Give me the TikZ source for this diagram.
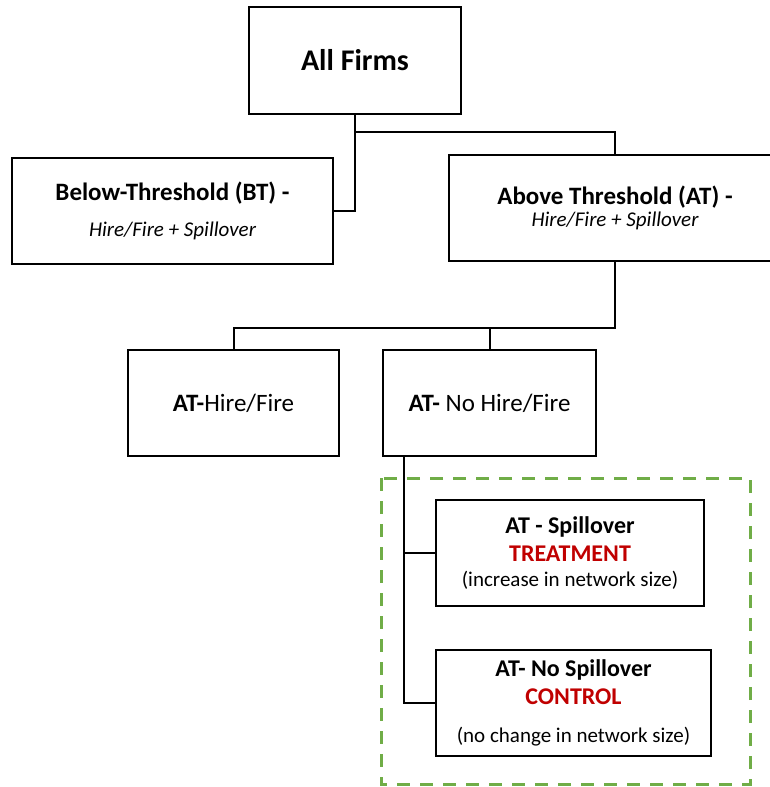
\documentclass[tikz,border=0pt]{standalone}
\usepackage{fontspec}
\setmainfont{Carlito}
\usepackage{tikz}
\definecolor{groupred}{RGB}{192,0,0}
\definecolor{groupgreen}{RGB}{112,173,71}
\lineskiplimit=-30pt

\begin{document}
\begin{tikzpicture}[x=1pt, y=-1pt,
	box/.style={draw, line width=2pt, minimum height=106pt, inner sep=0pt, align=center,
		font=\fontsize{25}{30}\selectfont},
	link/.style={line width=2pt}]
	\useasboundingbox (0,0) rectangle (769,787);
	% top level
	\node[box, minimum width=212pt, minimum height=107pt] (all) at (355,60.5) {\fontsize{30}{34}\selectfont\bfseries All Firms};
	\node[box, minimum width=321pt] (bt) at (172.5,211) {\bfseries Below-Threshold (BT) -\\[6pt] {\fontsize{21}{25}\selectfont\itshape Hire/Fire + Spillover}};
	\node[box, minimum width=332pt] (at) at (615,208) {\bfseries Above Threshold (AT) -\\[-8pt] {\fontsize{21}{25}\selectfont\itshape Hire/Fire + Spillover}};
	\coordinate (split1) at (355,132);
	\draw[link] (all.south) |- (bt.east);
	\draw[link] (split1) -| (at.north);
	% second level
	\node[box, minimum width=211pt, font=\fontsize{25}{28}\selectfont] (athf) at (233.5,403) {\textbf{AT-}Hire/Fire};
	\node[box, minimum width=213pt, font=\fontsize{25}{28}\selectfont] (atnhf) at (489.5,403) {\textbf{AT-} No Hire/Fire};
	\coordinate (split2) at (615,328);
	\draw[link] (at.south) -- (split2) -| (athf.north);
	\draw[link] (split2) -| (atnhf.north);
	% treatment and control group
	\draw[groupgreen, line width=3pt, dash pattern=on 13pt off 10pt] (381,478) rectangle (750,784);
	\node[box, minimum width=268pt, font=\fontsize{24}{28}\selectfont] (spill) at (570,553) {\bfseries AT - Spillover\\[0pt] \textcolor{groupred}{\bfseries TREATMENT}\\[-3pt] {\fontsize{21}{25}\selectfont (increase in network size)}};
	\node[box, minimum width=275pt, font=\fontsize{24}{28}\selectfont] (nospill) at (573.5,703) {\bfseries AT- No Spillover\\[0pt] \textcolor{groupred}{\bfseries CONTROL}\\[10pt] {\fontsize{21}{25}\selectfont (no change in network size)}};
	\coordinate (split3) at (404,456);
	\draw[link] (split3) |- (spill.west);
	\draw[link] (split3) |- (nospill.west);
\end{tikzpicture}
\end{document}
